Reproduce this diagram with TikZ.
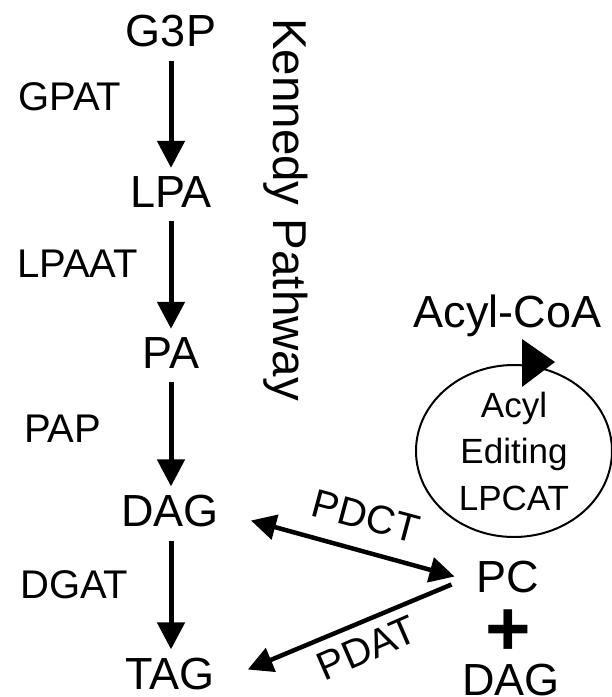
\documentclass[tikz,border=0pt]{standalone}
\usepackage{fontspec}
\setmainfont{Liberation Sans}
\usetikzlibrary{arrows.meta,shapes.geometric}
\begin{document}
\begin{tikzpicture}[x=1pt,y=-1pt,
  mainlbl/.style={font=\fontsize{45}{54}\selectfont, inner sep=0pt, anchor=base},
  enzlbl/.style={font=\fontsize{40}{48}\selectfont, inner sep=0pt, anchor=base west},
  rotlbl/.style={font=\fontsize{40}{48}\selectfont, inner sep=0pt},
  vtip/.tip={Triangle[width=27pt,length=27pt]},
  stip/.tip={Triangle[width=25pt,length=25pt]},
  vstep/.style={line width=5pt, -{vtip}, shorten <=14pt, shorten >=8pt},
  slant/.style={line width=4.5pt}
]
\useasboundingbox (0,0) rectangle (612,697);
% metabolites
\node[mainlbl] (g3p) at (171,46) {G3P};
\node[mainlbl] (lpa) at (171,207) {LPA};
\node[mainlbl] (pa) at (171,368) {PA};
\node[mainlbl] (dag) at (170,526) {DAG};
\node[mainlbl] (tag) at (170,689) {TAG};
% enzymes
\node[enzlbl] (gpat) at (18,110) {GPAT};
\node[enzlbl] (lpaat) at (17,277) {LPAAT};
\node[enzlbl] (pap) at (24,442) {PAP};
\node[enzlbl] (dgat) at (20,598) {DGAT};
% pathway title
\node[font=\fontsize{47.5}{57}\selectfont, inner sep=0pt, rotate=-90, anchor=base west] (kp) at (273,18) {Kennedy Pathway};
% right side
\node[mainlbl] (acoa) at (507.5,327) {Acyl-CoA};
\node[mainlbl] (pc) at (508,592) {PC};
\node[mainlbl] (dag2) at (511,695) {DAG};
\node[font=\fontsize{78}{90}\selectfont\bfseries, inner sep=0pt, anchor=base] (plus) at (508,655) {+};
\node[ellipse, draw, line width=2pt, minimum width=196pt, minimum height=172pt, inner sep=0pt, align=center, font=\fontsize{35}{46.5}\selectfont] (edit) at (514,451) {Acyl\\Editing\\LPCAT};
\fill[shift={(edit.north)}] (8,-25) -- (8,23) -- (41,-2) -- cycle;
% Kennedy arrows
\draw[vstep] (g3p.south) -- (lpa.north);
\draw[vstep] (lpa.south) -- (pa.north);
\draw[vstep] (pa.south) -- ([xshift=1pt]dag.north);
\draw[vstep] ([xshift=1pt]dag.south) -- ([xshift=1pt]tag.north);
% PDCT / PDAT
\draw[slant, {stip}-{stip}] ([xshift=32pt,yshift=-10pt]dag.east) -- ([xshift=-22pt]pc.west);
\draw[slant, -{stip}] ([xshift=-25pt,yshift=-8pt]pc.west) -- ([xshift=33pt,yshift=4pt]tag.east);
\node[rotlbl, rotate=-15] (pdct) at (366,516) {PDCT};
\node[rotlbl, rotate=23.5] (pdat) at (367,648) {PDAT};
\end{tikzpicture}
\end{document}
